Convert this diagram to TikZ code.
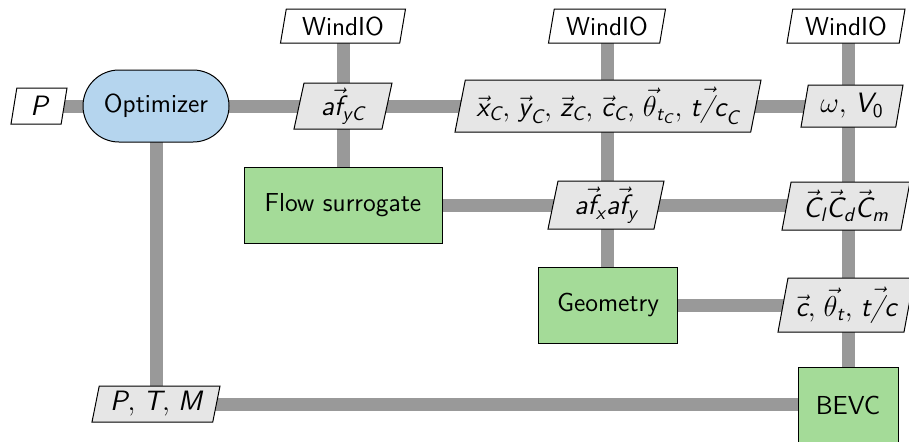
\documentclass[tikz,border=0pt]{standalone}
\usepackage{amsmath}
\usetikzlibrary{shapes.geometric,backgrounds}
\definecolor{linegray}{HTML}{999999}
\definecolor{optblue}{HTML}{B5D5EE}
\definecolor{funcgreen}{HTML}{A4DB98}
\definecolor{datagray}{HTML}{E6E6E6}
% sans italic letters for variable names
\newcommand{\mi}[1]{\text{\sffamily\itshape #1}}
\newcommand{\mup}[1]{\text{\sffamily #1}}
\newcommand{\sep}{,\mkern2mu}
\begin{document}
\begin{tikzpicture}[x=0.5pt,y=-0.5pt,
  every node/.style={font=\fontsize{13}{16}\selectfont\sffamily, inner sep=1pt},
  mathtext/.style={font=\fontsize{14}{17}\selectfont\sffamily},
  data/.style={trapezium, trapezium left angle=76, trapezium right angle=104,
    trapezium stretches body, draw, line width=0.5pt},
  inputbox/.style={data, fill=white},
  varbox/.style={data, fill=datagray, mathtext},
  funcbox/.style={rectangle, draw, fill=funcgreen, line width=0.5pt},
  optbox/.style={rectangle, draw, fill=optblue, line width=0.5pt},
  link/.style={draw=linegray, line width=6.5pt}]
\useasboundingbox (0,0) rectangle (909,441);

% inputs
\node[inputbox, mathtext, minimum width=28pt, minimum height=18pt] (P) at (39,106) {$\mi{P}$};
\node[inputbox, minimum width=62.5pt, minimum height=17pt] (w1) at (343,26) {WindIO};
\node[inputbox, minimum width=58.5pt, minimum height=17pt] (w2) at (607,26) {WindIO};
\node[inputbox, minimum width=59pt, minimum height=17pt] (w3) at (846,26) {WindIO};

% optimizer
\node[optbox, minimum width=73pt, minimum height=36pt, rounded corners=18pt] (opt) at (156,106) {Optimizer};

% variables
\node[varbox, minimum width=49pt, minimum height=23pt] (afyc) at (343,106)
  {$\mi{a}\vec{\mi{f}}_{\mi{yC}}$};
\node[varbox, minimum width=153pt, minimum height=26pt] (chord) at (608,106)
  {$\vec{\mi{x}}_{\mi{C}}\sep \vec{\mi{y}}_{\mi{C}}\sep \vec{\mi{z}}_{\mi{C}}\sep \vec{\mi{c}}_{\mi{C}}\sep
    \vec{\theta}_{\mi{t}_{\mi{C}}}\sep \vec{\mi{t/c}}_{\mi{C}}$};
\node[varbox, minimum width=51pt, minimum height=21pt] (omega) at (852,106)
  {$\omega\sep \mi{V}_{\mup{0}}$};
\node[varbox, minimum width=58pt, minimum height=24pt] (afxy) at (606,205)
  {$\mi{a}\vec{\mi{f}}_{\mi{x}}\mi{a}\vec{\mi{f}}_{\mi{y}}$};
\node[varbox, minimum width=64pt, minimum height=24pt] (coef) at (846,206)
  {$\vec{\mi{C}}_{\mi{l}}\vec{\mi{C}}_{\mi{d}}\vec{\mi{C}}_{\mi{m}}$};
\node[varbox, minimum width=68pt, minimum height=27pt] (geo) at (846,305)
  {$\vec{\mi{c}}\sep \vec{\theta}_{\mi{t}}\sep \vec{\mi{t/c}}$};
\node[varbox, minimum width=64pt, minimum height=18pt] (ptm) at (156,404)
  {$\mi{P}\sep \mi{T}\sep \mi{M}$};

% functions
\node[funcbox, minimum width=99pt, minimum height=38pt] (flow) at (343,205) {Flow surrogate};
\node[funcbox, minimum width=69.5pt, minimum height=38pt] (geom) at (608,305) {Geometry};
\node[funcbox, minimum width=50pt, minimum height=38pt] (bevc) at (848,405.5) {BEVC};

% data links
\begin{pgfonlayer}{background}
\draw[link] (P.center) -- (P.center -| omega.center);
\draw[link] (opt.center) -- (opt.center |- ptm.center);
\draw[link] (ptm.center) -- (ptm.center -| bevc.center);
\draw[link] (w1.center) -- (flow.center);
\draw[link] (flow.center) -- (flow.center -| coef.center);
\draw[link] (w2.center) -- (w2.center |- geom.center);
\draw[link] (geom.center) -- (geom.center -| geo.center);
\draw[link] (bevc.center |- w3.center) -- (bevc.center);
\end{pgfonlayer}
\end{tikzpicture}
\end{document}
